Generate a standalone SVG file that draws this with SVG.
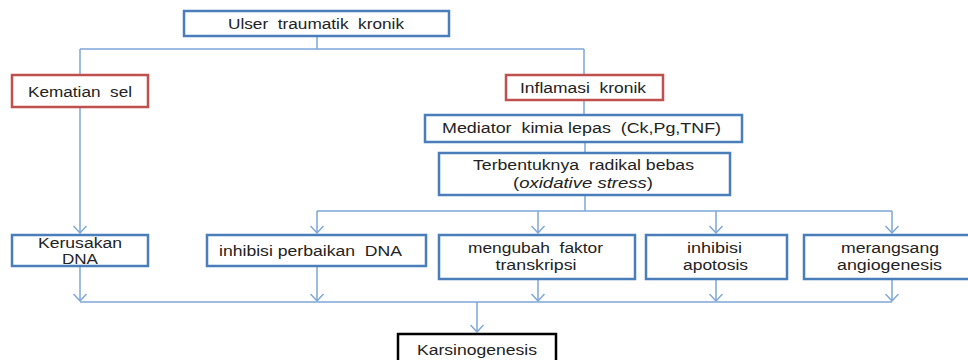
<svg xmlns="http://www.w3.org/2000/svg" width="968" height="360" viewBox="0 0 968 360">
<style>
.box{fill:#fff;stroke:#4a7ebb;stroke-width:2.5}
.red{fill:#fff;stroke:#c0504d;stroke-width:2.5}
.blk{fill:#fff;stroke:#000;stroke-width:2.5}
.t{font-family:"Liberation Sans",Arial,sans-serif;font-size:14px;fill:#222;text-anchor:middle;dominant-baseline:central;white-space:pre}
.c{fill:none;stroke:#7ea6d8;stroke-width:1.5}
</style>
<defs>
<marker id="arr" markerWidth="10" markerHeight="14" refX="8" refY="7" orient="auto" markerUnits="userSpaceOnUse" viewBox="0 0 10 14">
<polyline points="1,0.5 8,7 1,13.5" fill="none" stroke="#7ea6d8" stroke-width="1.5"/>
</marker>
</defs>
<g id="connectors">
<path class="c" d="M317,36 V49 M80,49 H584 M80,49 V75 M584,49 V75 M584,100 V115 M585,142 V153 M585,195 V211 M317,211 H892"/>
<path class="c" d="M80,107 V233" marker-end="url(#arr)"/>
<path class="c" d="M317,211 V233" marker-end="url(#arr)"/>
<path class="c" d="M538,211 V233" marker-end="url(#arr)"/>
<path class="c" d="M716,211 V233" marker-end="url(#arr)"/>
<path class="c" d="M892,211 V233" marker-end="url(#arr)"/>
<path class="c" d="M80,302 H892"/>
<path class="c" d="M80,266 V301" marker-end="url(#arr)"/>
<path class="c" d="M317,266 V301" marker-end="url(#arr)"/>
<path class="c" d="M538,279 V301" marker-end="url(#arr)"/>
<path class="c" d="M716,279 V301" marker-end="url(#arr)"/>
<path class="c" d="M892,279 V301" marker-end="url(#arr)"/>
<path class="c" d="M477,302 V332" marker-end="url(#arr)"/>
</g>
<g id="ulser"><rect class="box" x="184" y="11" width="265" height="25"/><text class="t" x="316" y="23.5" textLength="176" lengthAdjust="spacingAndGlyphs">Ulser  traumatik  kronik</text></g>
<g id="kematian"><rect class="red" x="12" y="75" width="136" height="32"/><text class="t" x="80" y="91.5" textLength="104" lengthAdjust="spacingAndGlyphs">Kematian  sel</text></g>
<g id="inflamasi"><rect class="red" x="506" y="75" width="157" height="25"/><text class="t" x="583" y="87.5" textLength="126" lengthAdjust="spacingAndGlyphs">Inflamasi  kronik</text></g>
<g id="mediator"><rect class="box" x="425" y="115" width="317" height="27"/><text class="t" x="581.5" y="128" textLength="279" lengthAdjust="spacingAndGlyphs">Mediator  kimia lepas  (Ck,Pg,TNF)</text></g>
<g id="radikal"><rect class="box" x="439" y="153" width="291" height="42"/><text class="t" x="583.5" y="165" textLength="221" lengthAdjust="spacingAndGlyphs">Terbentuknya  radikal bebas</text><text class="t" x="583" y="183" textLength="140" lengthAdjust="spacingAndGlyphs">(<tspan font-style="italic">oxidative stress</tspan>)</text></g>
<g id="kerusakan"><rect class="box" x="12" y="235" width="136" height="31"/><text class="t" x="80" y="243" textLength="84" lengthAdjust="spacingAndGlyphs">Kerusakan</text><text class="t" x="80" y="259" textLength="36" lengthAdjust="spacingAndGlyphs">DNA</text></g>
<g id="perbaikan"><rect class="box" x="207" y="235" width="219" height="31"/><text class="t" x="310.5" y="251" textLength="183" lengthAdjust="spacingAndGlyphs">inhibisi perbaikan  DNA</text></g>
<g id="mengubah"><rect class="box" x="439" y="235" width="196" height="44"/><text class="t" x="535.5" y="248" textLength="135" lengthAdjust="spacingAndGlyphs">mengubah  faktor</text><text class="t" x="536" y="265" textLength="81" lengthAdjust="spacingAndGlyphs">transkripsi</text></g>
<g id="apotosis"><rect class="box" x="646" y="235" width="141" height="44"/><text class="t" x="714.5" y="248" textLength="55" lengthAdjust="spacingAndGlyphs">inhibisi</text><text class="t" x="715.5" y="265" textLength="65" lengthAdjust="spacingAndGlyphs">apotosis</text></g>
<g id="angiogenesis"><rect class="box" x="804" y="235" width="172" height="44"/><text class="t" x="890" y="248" textLength="98" lengthAdjust="spacingAndGlyphs">merangsang</text><text class="t" x="889.5" y="265" textLength="105" lengthAdjust="spacingAndGlyphs">angiogenesis</text></g>
<g id="karsinogenesis"><rect class="blk" x="398" y="334" width="158" height="40"/><text class="t" x="477" y="350" textLength="120" lengthAdjust="spacingAndGlyphs">Karsinogenesis</text></g>
</svg>
